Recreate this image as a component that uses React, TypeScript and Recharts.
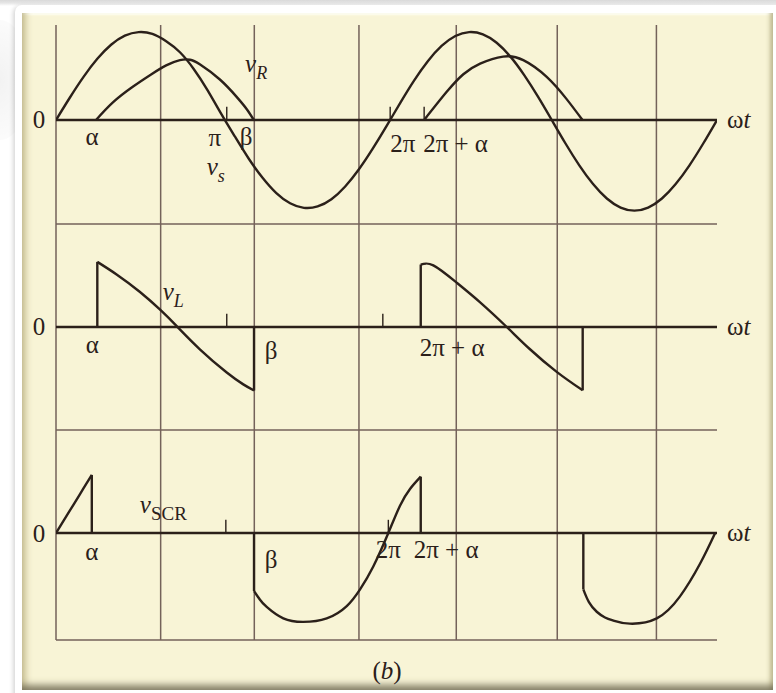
import React from 'react'
import { ComposedChart, Line, XAxis, YAxis, ReferenceLine, ReferenceDot } from 'recharts'

// ωt in electrical degrees (0..4π = 0..720), voltages as a fraction of Vm
type Pt = [number, number]

// source voltage v_s over two cycles
const vS: Pt[] = [
  [0, 0], [15, 0.253], [30, 0.49], [45, 0.695], [60, 0.855], [75, 0.958], [90, 0.999],
  [105, 0.978], [120, 0.895], [135, 0.77], [150, 0.58], [165, 0.34], [180, 0.07],
  [195, -0.19], [210, -0.44], [225, -0.656], [240, -0.83], [255, -0.946], [270, -0.998],
  [285, -0.982], [300, -0.9], [315, -0.755], [330, -0.56], [345, -0.326], [360, -0.07],
  [375, 0.195], [390, 0.448], [405, 0.668], [420, 0.841], [435, 0.954], [450, 0.999],
  [465, 0.973], [480, 0.878], [495, 0.72], [510, 0.51], [525, 0.265], [540, 0],
  [555, -0.267], [570, -0.515], [585, -0.728], [600, -0.892], [615, -0.995], [630, -1.03],
  [645, -0.995], [660, -0.892], [675, -0.728], [690, -0.515], [705, -0.267], [720, 0],
]

// resistor voltage v_R, conducting from α to β in each cycle
const vR1: Pt[] = [
  [43.6, 0], [62, 0.2], [84, 0.38], [104, 0.52], [120, 0.62], [135, 0.68], [146, 0.685],
  [157, 0.63], [178.5, 0.46], [197, 0.26], [208, 0.12], [215.5, 0],
]
const vR2: Pt[] = [
  [401, 0], [425.6, 0.32], [443.7, 0.52], [462, 0.64], [487, 0.72], [509, 0.68],
  [534.5, 0.49], [556, 0.24], [573.5, 0],
]

// inductor voltage v_L (repeated x = vertical jump)
const vL1: Pt[] = [
  [45, 0], [45, 0.74], [66, 0.597], [91.5, 0.398], [114, 0.191], [131.5, 0.01],
  [157, -0.256], [186, -0.517], [204, -0.652], [215.7, -0.722], [215.7, 0],
]
const vL2: Pt[] = [
  [397.3, 0], [397.3, 0.71], [411, 0.7], [435.7, 0.51], [462, 0.28], [491, 0],
  [516, -0.25], [545.4, -0.51], [573.7, -0.72], [573.7, 0],
]

// thyristor voltage v_SCR
const vScr1: Pt[] = [[0, 0], [13, 0.22], [26, 0.44], [39, 0.66], [39, 0]]
const vScr2: Pt[] = [
  [215.7, 0], [215.7, -0.66], [222, -0.755], [229.5, -0.84], [247.6, -0.97], [269.4, -1.01],
  [294.9, -0.97], [316.7, -0.83], [331.2, -0.64], [345.6, -0.38], [362, 0], [374.7, 0.31],
  [385.6, 0.5], [397.3, 0.64], [397.3, 0],
]
const vScr3: Pt[] = [
  [574.4, 0], [574.4, -0.64], [580.5, -0.785], [589, -0.895], [598, -0.96], [607, -0.995],
  [625, -1.03], [654.4, -0.97], [679.7, -0.72], [701.5, -0.35], [718, 0],
]

// vertical grid positions (degrees)
const gridX = [0, 114, 216, 330, 436, 546, 654]

// small tick marks standing on each zero axis
const ticksTop = [186, 364, 401]
const ticksMid = [186, 356]
const ticksBot = [185, 362]

// plot geometry (px)
const W = 776
const H = 693
const PLOT_LEFT = 56
const PLOT_RIGHT = 717
const PLOT_TOP = 25
const PLOT_BOTTOM = 640
const UNIT = 88
const AXIS_Y = { top: 120, mid: 327, bot: 533 }
const PANEL_BOTTOM = { top: 224, mid: 430, bot: 640 }

type Panel = 'top' | 'mid' | 'bot'

const domainFor = (p: Panel): [number, number] => [
  (AXIS_Y[p] - PLOT_BOTTOM) / UNIT,
  (AXIS_Y[p] - PLOT_TOP) / UNIT,
]
const valueAt = (p: Panel, px: number) => (AXIS_Y[p] - px) / UNIT

const INK = '#2b201a'
const GRID = '#74625a'
const FONT = "'Liberation Serif', 'Times New Roman', serif"
const FONT_SIZE = 25
const TICK_H = 0.15

const rows = (pts: Pt[]) => pts.map(([x, v]) => ({ x, v }))

// split a trace into smooth runs and vertical jumps (two points sharing x)
function pieces(pts: Pt[]) {
  const out: { pts: Pt[]; jump: boolean }[] = []
  let run: Pt[] = []
  for (let i = 0; i < pts.length; i++) {
    const next = pts[i + 1]
    if (next && next[0] === pts[i][0]) {
      run.push(pts[i])
      if (run.length > 1) out.push({ pts: run, jump: false })
      out.push({ pts: [pts[i], next], jump: true })
      run = []
    } else {
      run.push(pts[i])
    }
  }
  if (run.length > 1) out.push({ pts: run, jump: false })
  return out
}

const sub = (s: string, italic = true, size = 18) => (
  <tspan fontStyle={italic ? 'italic' : 'normal'} fontSize={size} dy={7}>{s}</tspan>
)
const it = (s: string) => <tspan fontStyle="italic">{s}</tspan>
const omegaT = (
  <>
    <tspan>ω</tspan>
    {it('t')}
  </>
)

interface Note {
  panel: Panel
  x: number
  dx: number
  dy: number
  anchor?: 'start' | 'middle' | 'end'
  body: React.ReactNode
}

const notes: Note[] = [
  { panel: 'top', x: 0, dx: -17, dy: 8, body: '0' },
  { panel: 'top', x: 43.6, dx: -4, dy: 25, body: 'α' },
  { panel: 'top', x: 186, dx: -12, dy: 26, body: 'π' },
  { panel: 'top', x: 215.7, dx: -8, dy: 25, body: 'β' },
  { panel: 'top', x: 364, dx: 0, dy: 32, anchor: 'start', body: '2π' },
  { panel: 'top', x: 401, dx: -1, dy: 32, anchor: 'start', body: '2π + α' },
  { panel: 'top', x: 720, dx: 10, dy: 8, anchor: 'start', body: omegaT },
  { panel: 'top', x: 215.7, dx: -9, dy: -48, anchor: 'start', body: <>{it('v')}{sub('R')}</> },
  { panel: 'top', x: 186, dx: -20, dy: 55, anchor: 'start', body: <>{it('v')}{sub('s')}</> },

  { panel: 'mid', x: 0, dx: -17, dy: 8, body: '0' },
  { panel: 'mid', x: 45, dx: -5, dy: 26, body: 'α' },
  { panel: 'mid', x: 215.7, dx: 17, dy: 32, body: 'β' },
  { panel: 'mid', x: 397.3, dx: -1, dy: 29, anchor: 'start', body: '2π + α' },
  { panel: 'mid', x: 720, dx: 10, dy: 8, anchor: 'start', body: omegaT },
  { panel: 'mid', x: 114, dx: 2, dy: -27, anchor: 'start', body: <>{it('v')}{sub('L')}</> },

  { panel: 'bot', x: 0, dx: -17, dy: 9, body: '0' },
  { panel: 'bot', x: 39, dx: 0, dy: 27, body: 'α' },
  { panel: 'bot', x: 215.7, dx: 17, dy: 35, body: 'β' },
  { panel: 'bot', x: 362, dx: 0, dy: 25, body: '2π' },
  { panel: 'bot', x: 397.3, dx: -7, dy: 25, anchor: 'start', body: '2π + α' },
  { panel: 'bot', x: 720, dx: 10, dy: 8, anchor: 'start', body: omegaT },
  { panel: 'bot', x: 39, dx: 48, dy: -20, anchor: 'start', body: <>{it('v')}{sub('SCR', false, 19)}</> },
]

const noteContent = (n: Note) => (props: any) => {
  const vb = props.viewBox || { x: 0, y: 0, width: 0, height: 0 }
  const cx = vb.x + (vb.width || 0) / 2
  const cy = vb.y + (vb.height || 0) / 2
  return (
    <text
      x={cx + n.dx}
      y={cy + n.dy}
      textAnchor={n.anchor ?? 'middle'}
      style={{ fontFamily: FONT, fontSize: FONT_SIZE }}
      fill={INK}
    >
      {n.body}
    </text>
  )
}

function Waveforms() {
  const panels: Panel[] = ['top', 'mid', 'bot']
  const tickSets: Record<Panel, number[]> = { top: ticksTop, mid: ticksMid, bot: ticksBot }
  const traces: { id: string; pts: Pt[]; panel: Panel }[] = [
    { id: 'vs', pts: vS, panel: 'top' },
    { id: 'vr1', pts: vR1, panel: 'top' },
    { id: 'vr2', pts: vR2, panel: 'top' },
    { id: 'vl1', pts: vL1, panel: 'mid' },
    { id: 'vl2', pts: vL2, panel: 'mid' },
    { id: 'scr1', pts: vScr1, panel: 'bot' },
    { id: 'scr2', pts: vScr2, panel: 'bot' },
    { id: 'scr3', pts: vScr3, panel: 'bot' },
  ]

  return (
    <ComposedChart
      width={W}
      height={H}
      margin={{ top: PLOT_TOP, right: W - PLOT_RIGHT, bottom: H - PLOT_BOTTOM, left: PLOT_LEFT }}
    >
      <XAxis type="number" dataKey="x" domain={[0, 720]} allowDataOverflow hide />
      {panels.map((p) => (
        <YAxis key={p} yAxisId={p} type="number" domain={domainFor(p)} allowDataOverflow hide />
      ))}

      {gridX.map((g) => (
        <ReferenceLine key={`g${g}`} yAxisId="top" x={g} stroke={GRID} strokeWidth={1.5} />
      ))}
      {panels.map((p) => (
        <ReferenceLine
          key={`b${p}`}
          yAxisId={p}
          y={valueAt(p, PANEL_BOTTOM[p])}
          stroke={GRID}
          strokeWidth={1.7}
        />
      ))}
      {panels.map((p) => (
        <ReferenceLine key={`z${p}`} yAxisId={p} y={0} stroke={INK} strokeWidth={2.3} />
      ))}
      {panels.flatMap((p) =>
        tickSets[p].map((t) => (
          <ReferenceLine
            key={`t${p}${t}`}
            yAxisId={p}
            segment={[{ x: t, y: 0 }, { x: t, y: TICK_H }]}
            stroke={INK}
            strokeWidth={1.4}
          />
        ))
      )}

      {traces.flatMap((tr) =>
        pieces(tr.pts).map((pc, i) => (
          <Line
            key={`${tr.id}-${i}`}
            data={rows(pc.pts)}
            dataKey="v"
            yAxisId={tr.panel}
            type={pc.jump || pc.pts.length < 3 ? 'linear' : 'natural'}
            stroke={INK}
            strokeWidth={2.4}
            dot={false}
            activeDot={false}
            isAnimationActive={false}
          />
        ))
      )}

      {notes.map((n, i) => (
        <ReferenceDot
          key={`n${i}`}
          yAxisId={n.panel}
          x={n.x}
          y={0}
          r={0}
          fill="none"
          stroke="none"
          ifOverflow="visible"
          label={{ content: noteContent(n) }}
        />
      ))}
    </ComposedChart>
  )
}

export default function App() {
  return (
    <div
      style={{
        position: 'fixed',
        left: 0,
        top: 0,
        width: W,
        height: H,
        overflow: 'hidden',
        background: 'linear-gradient(#d9d9d9 0px, #e6e6e6 3px, #ffffff 6px)',
      }}
    >
      {/* soft page-curl shading on the left edge */}
      <div
        style={{
          position: 'absolute',
          left: -30,
          top: 20,
          width: 60,
          height: 120,
          borderRadius: '50%',
          background: 'radial-gradient(rgba(0,0,0,0.05), rgba(0,0,0,0))',
        }}
      />
      <div
        style={{
          position: 'absolute',
          left: 15,
          top: 5,
          width: 775,
          height: 700,
          background: '#ffffff',
          borderRadius: 7,
          boxShadow: '-2px 1px 4px rgba(0,0,0,0.16)',
        }}
      />
      <div
        style={{
          position: 'absolute',
          left: 22,
          top: 13,
          width: 751,
          height: 677,
          background: '#f8f4d6',
          boxShadow: [
            'inset 0 -10px 7px -5px rgba(105,100,78,0.8)',
            'inset 9px 0 6px -5px rgba(185,176,128,0.75)',
            'inset -7px 0 4px -4px rgba(180,174,130,0.8)',
            'inset 0 3px 2px -1px rgba(255,255,246,1)',
          ].join(', '),
        }}
      />
      <div style={{ position: 'absolute', left: 0, top: 0 }}>
        <Waveforms />
      </div>
      <div
        style={{
          position: 'absolute',
          left: 337,
          top: 657,
          width: 100,
          textAlign: 'center',
          fontFamily: FONT,
          fontSize: FONT_SIZE,
          color: INK,
        }}
      >
        (<i>b</i>)
      </div>
    </div>
  )
}
